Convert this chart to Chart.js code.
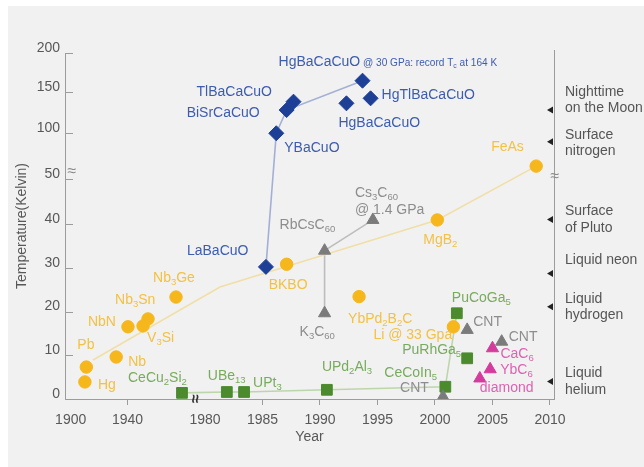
<!DOCTYPE html>
<html>
<head>
<meta charset="utf-8">
<script src="https://cdn.jsdelivr.net/npm/chart.js@4/dist/chart.umd.min.js"></script>
<style>
  html, body { margin: 0; padding: 0; background: #ffffff; }
  canvas { display: block; }
</style>
</head>
<body>
<canvas id="chart" width="644" height="467"></canvas>
<script>
// ---- axis ticks ----
const yearTicks = [1900, 1940, 1980, 1985, 1990, 1995, 2000, 2005, 2010];
const tempTicks = [0, 10, 20, 30, 40, 50, 100, 150, 200];

// ---- conventional superconductors (yellow) ----
const metalNames = ['Hg', 'Pb', 'Nb', 'NbN', 'V_{3}Si', 'Nb_{3}Sn', 'Nb_{3}Ge', 'BKBO',
                    'YbPd_{2}B_{2}C', 'MgB_{2}', 'Li @ 33 Gpa', 'FeAs'];
const metalYears = [1910, 1911, 1932, 1940.3, 1950.9, 1954.4, 1974.1, 1987.1, 1993.4, 2000.2, 2001.6, 2008.8];
const metalTc    = [3.9, 7.3, 9.6, 16.5, 16.7, 18.3, 23.3, 30.8, 23.4, 40.9, 16.5, 64];
const trendYears = [1915.7, 1981.3, 2000.2, 2008.8];
const trendTc    = [8.9, 25.6, 40.9, 64];

// ---- cuprates (blue) ----
const cuprateNames = ['LaBaCuO', 'YBaCuO', 'BiSrCaCuO', 'TlBaCaCuO', 'HgBaCaCuO', 'HgTlBaCaCuO',
                      'HgBaCaCuO| @ 30 GPa: record T_{c} at 164 K'];
const cuprateYears = [1985.3, 1986.2, 1987.1, 1987.7, 1992.3, 1994.4, 1993.7];
const cuprateTc    = [30.2, 99.7, 128, 138.2, 136.2, 142.3, 164.5];
const cupratePath  = [0, 1, 2, 6];

// ---- fullerides and nanotubes (grey) ----
const carbonNames = ['K_{3}C_{60}', 'RbCsC_{60}', 'Cs_{3}C_{60}\n@ 1.4 GPa', 'CNT', 'CNT', 'CNT'];
const carbonYears = [1990.4, 1990.4, 1994.6, 2000.7, 2002.8, 2005.8];
const carbonTc    = [19.6, 33.9, 40.9, 0.5, 15.8, 13.1];
const carbonPath  = [0, 1, 2];

// ---- heavy fermions (green) ----
const fermionNames = ['CeCu_{2}Si_{2}', 'UBe_{13}', 'UPt_{3}', 'UPd_{2}Al_{3}', 'CeCoIn_{5}', 'PuRhGa_{5}', 'PuCoGa_{5}'];
const fermionYears = [1978.3, 1981.9, 1983.4, 1990.6, 2000.9, 2002.8, 2001.9];
const fermionTc    = [1.4, 1.6, 1.6, 2.1, 2.8, 9.3, 19.6];
const fermionPath  = [0, 1, 2, 3, 4, 6];

// ---- diamond and intercalated graphite (magenta) ----
const graphiteNames = ['diamond', 'YbC_{6}', 'CaC_{6}'];
const graphiteYears = [2003.9, 2004.8, 2005.0];
const graphiteTc    = [4.7, 6.8, 11.6];

// ---- reference temperatures on the right edge ----
const levelNames = [['Liquid', 'helium'], ['Liquid', 'hydrogen'], ['Liquid neon'],
                    ['Surface', 'of Pluto'], ['Surface', 'nitrogen'], ['Nighttime', 'on the Moon']];
const levelTemps = [4.0, 21.1, 28.7, 41.0, 90.5, 128];

// ---- layout of the broken axes (value -> relative position) ----
const AXIS_KNOTS = {
  x: [[1900, 70.7], [1979, 183], [1980, 205], [2010, 550]],
  y: [[0, 0], [40, 175], [50, 220], [100, 266], [150, 307], [200, 346]]
};

// label offsets from each marker, in pixels [dx, dy]
const metalLabelPos    = [[13, 3], [-9, -22], [12, 5], [-40, -5], [4, 12], [-33, -19], [-23, -19],
                          [-18, 21], [-11, 23], [-14, 20], [-80, 8], [-45, -19]];
const cuprateLabelPos  = [[-79, -16], [8, 15], [-100, 3], [-97, -10], [-8, 20], [11, -3], [-84, -19]];
const carbonLabelPos   = [[-25, 19], [-45, -26], [-18, -27], [-43, -9], [6, -8], [7, -5]];
const fermionLabelPos  = [[-54, -15], [-19, -16], [9, -9], [-5, -23], [-61, -14], [-65, -8], [-5, -15]];
const graphiteLabelPos = [[0, 10], [10, 1], [8, 6]];
const levelFirstLine   = [-8, -8, -13, -8, -7, -18];

const FONT = '"Liberation Sans", Arial, Helvetica, sans-serif';
const COL = {
  blue: '#1d3f96', blueText: '#3c5cae', blueLine: '#a3b0d6',
  gold: '#f6b71c', goldText: '#f3c143', goldLine: '#f1dfa8',
  green: '#4b8b2d', greenText: '#78ab5c', greenLine: '#bcd6ab',
  grey: '#7b7b7b', greyText: '#8d8d8d', greyLine: '#bdbdbd',
  pink: '#d53b9d', pinkText: '#dd62b2',
  axis: '#9c9c9c', tick: '#585858'
};

// ---- a linear scale with piecewise (broken) mapping ----
class BrokenScale extends Chart.LinearScale {
  _toUnit(v) {
    const k = AXIS_KNOTS[this.axis];
    let i = 0;
    while (i < k.length - 2 && v > k[i + 1][0]) i++;
    const a = k[i], b = k[i + 1];
    return a[1] + (v - a[0]) * (b[1] - a[1]) / (b[0] - a[0]);
  }
  _fromUnit(u) {
    const k = AXIS_KNOTS[this.axis];
    let i = 0;
    while (i < k.length - 2 && u > k[i + 1][1]) i++;
    const a = k[i], b = k[i + 1];
    return a[0] + (u - a[1]) * (b[0] - a[0]) / (b[1] - a[1]);
  }
  getPixelForValue(value) {
    const u0 = this._toUnit(this.min), u1 = this._toUnit(this.max);
    return this.getPixelForDecimal((this._toUnit(value) - u0) / (u1 - u0));
  }
  getValueForPixel(pixel) {
    const u0 = this._toUnit(this.min), u1 = this._toUnit(this.max);
    return this._fromUnit(u0 + this.getDecimalForPixel(pixel) * (u1 - u0));
  }
}
BrokenScale.id = 'broken';
Chart.register(BrokenScale);

// ---- datasets ----
const pts = (xs, ys) => xs.map((x, i) => ({ x, y: ys[i] }));
const path = (xs, ys, idx) => idx.map(i => ({ x: xs[i], y: ys[i] }));

function markers(xs, ys, style, color, radius) {
  return {
    data: pts(xs, ys), pointStyle: style, pointRadius: radius,
    pointBackgroundColor: color, pointBorderColor: color, pointBorderWidth: 1,
    showLine: false, order: 0
  };
}
function guide(data, color) {
  return {
    data, showLine: true, pointRadius: 0, borderColor: color, borderWidth: 1.6,
    fill: false, order: 1
  };
}

const datasets = [
  markers(metalYears, metalTc, 'circle', COL.gold, 6.2),
  markers(cuprateYears, cuprateTc, 'rectRot', COL.blue, 7.5),
  markers(carbonYears, carbonTc, 'triangle', COL.grey, 7),
  markers(fermionYears, fermionTc, 'rect', COL.green, 7.6),
  markers(graphiteYears, graphiteTc, 'triangle', COL.pink, 7),
  guide(pts(trendYears, trendTc), COL.goldLine),
  guide(path(cuprateYears, cuprateTc, cupratePath), COL.blueLine),
  guide(path(carbonYears, carbonTc, carbonPath), COL.greyLine),
  guide(path(fermionYears, fermionTc, fermionPath), COL.greenLine)
];

// ---- text with _{subscripts}; '|' switches to the small caption size ----
function richParts(str) {
  const out = [];
  const re = /_\{([^}]*)\}/g;
  let last = 0, m;
  while ((m = re.exec(str))) {
    if (m.index > last) out.push({ t: str.slice(last, m.index), sub: false });
    out.push({ t: m[1], sub: true });
    last = re.lastIndex;
  }
  if (last < str.length) out.push({ t: str.slice(last), sub: false });
  return out;
}
function drawRich(ctx, str, x, y, size, color) {
  const chunks = str.split('|');
  let cx = x;
  ctx.fillStyle = color;
  ctx.textBaseline = 'middle';
  ctx.textAlign = 'left';
  chunks.forEach((chunk, ci) => {
    const s = ci === 0 ? size : size * 0.72;
    const dy = ci === 0 ? 0 : size * 0.08;
    richParts(chunk).forEach(p => {
      const fs = p.sub ? s * 0.68 : s;
      ctx.font = fs + 'px ' + FONT;
      ctx.fillText(p.t, cx, y + dy + (p.sub ? s * 0.3 : 0));
      cx += ctx.measureText(p.t).width;
    });
  });
}

function labelFamily(ctx, chart, names, xs, ys, offs, color) {
  const xs_ = chart.scales.x, ys_ = chart.scales.y;
  names.forEach((name, i) => {
    const px = xs_.getPixelForValue(xs[i]);
    const py = ys_.getPixelForValue(ys[i]);
    name.split('\n').forEach((line, li) => {
      drawRich(ctx, line, px + offs[i][0], py + offs[i][1] + li * 17, 14, color);
    });
  });
}

const backdrop = {
  id: 'backdrop',
  beforeDraw(chart) {
    const { ctx, width, height } = chart;
    ctx.save();
    ctx.fillStyle = '#ffffff';
    ctx.fillRect(0, 0, width, height);
    ctx.fillStyle = '#f1f1f1';
    ctx.fillRect(8, 6, width - 8, height - 6);
    ctx.restore();
  }
};

const decorations = {
  id: 'decorations',
  afterDatasetsDraw(chart) {
    const { ctx, chartArea: a, scales: { x, y } } = chart;
    ctx.save();

    // inward tick marks on the temperature axis
    ctx.strokeStyle = COL.axis;
    ctx.lineWidth = 1;
    tempTicks.forEach(v => {
      if (v === 0) return;
      const py = Math.round(y.getPixelForValue(v)) + 0.5;
      ctx.beginPath(); ctx.moveTo(a.left, py); ctx.lineTo(a.left + 8, py); ctx.stroke();
    });

    // right-hand frame line
    ctx.beginPath(); ctx.moveTo(a.right + 0.5, a.top - 3); ctx.lineTo(a.right + 0.5, a.bottom); ctx.stroke();

    // axis breaks
    ctx.font = '16px ' + FONT;
    ctx.textAlign = 'center'; ctx.textBaseline = 'middle';
    const yBreak = y.getPixelForValue(50) - 7;
    ctx.fillStyle = '#8a8a8a';
    ctx.fillText('\u2248', a.left + 7, yBreak);
    ctx.fillText('\u2248', a.right + 1, yBreak + 5);
    const xBreak = (x.getPixelForValue(1979) + x.getPixelForValue(1980)) / 2;
    ctx.save();
    ctx.translate(xBreak, a.bottom);
    ctx.rotate(Math.PI / 2);
    ctx.fillStyle = '#333333';
    ctx.font = 'bold 16px ' + FONT;
    ctx.fillText('\u2248', 0, 0);
    ctx.restore();

    // reference temperatures: arrow heads and captions
    levelTemps.forEach((t, i) => {
      const py = y.getPixelForValue(t);
      ctx.fillStyle = '#222222';
      ctx.beginPath();
      ctx.moveTo(a.right - 7, py);
      ctx.lineTo(a.right - 1, py - 3.5);
      ctx.lineTo(a.right - 1, py + 3.5);
      ctx.closePath(); ctx.fill();
      ctx.fillStyle = '#555555';
      ctx.font = '14px ' + FONT;
      ctx.textAlign = 'left';
      levelNames[i].forEach((line, li) => {
        ctx.fillText(line, a.right + 11, py + levelFirstLine[i] + li * 16.6);
      });
    });

    // point labels
    labelFamily(ctx, chart, metalNames, metalYears, metalTc, metalLabelPos, COL.goldText);
    labelFamily(ctx, chart, cuprateNames, cuprateYears, cuprateTc, cuprateLabelPos, COL.blueText);
    labelFamily(ctx, chart, carbonNames, carbonYears, carbonTc, carbonLabelPos, COL.greyText);
    labelFamily(ctx, chart, fermionNames, fermionYears, fermionTc, fermionLabelPos, COL.greenText);
    labelFamily(ctx, chart, graphiteNames, graphiteYears, graphiteTc, graphiteLabelPos, COL.pinkText);
    ctx.restore();
  }
};

const hiddenYearTicks = [1900, 1980];

new Chart(document.getElementById('chart'), {
  type: 'scatter',
  data: { datasets },
  options: {
    responsive: false,
    animation: false,
    events: [],
    layout: { padding: { left: 0, top: 53, right: 90, bottom: 0 } },
    plugins: { legend: { display: false }, tooltip: { enabled: false } },
    scales: {
      x: {
        type: 'broken', min: 1896, max: 2010.35,
        afterBuildTicks: s => { s.ticks = yearTicks.map(v => ({ value: v })); },
        afterFit: s => { s.height = 68; },
        grid: {
          drawOnChartArea: false, drawTicks: true, tickLength: 6, lineWidth: 1,
          color: c => (c.tick && hiddenYearTicks.includes(c.tick.value)) ? 'rgba(0,0,0,0)' : COL.axis
        },
        border: { color: COL.axis, width: 1 },
        ticks: {
          autoSkip: false, maxRotation: 0, padding: 7, color: COL.tick,
          font: { family: FONT, size: 14 }, callback: v => String(v)
        },
        title: {
          display: true, text: 'Year', color: COL.tick,
          font: { family: FONT, size: 14 }, padding: { top: 0, bottom: 21 }
        }
      },
      y: {
        type: 'broken', min: 0, max: 200,
        afterBuildTicks: s => { s.ticks = tempTicks.map(v => ({ value: v })); },
        afterFit: s => { s.width = 65; },
        grid: { display: false, drawTicks: false },
        border: { color: COL.axis, width: 1 },
        ticks: {
          autoSkip: false, padding: 5, labelOffset: -5, color: COL.tick,
          font: { family: FONT, size: 14 }, callback: v => String(v)
        },
        title: {
          display: true, text: 'Temperature(Kelvin)', color: COL.tick,
          font: { family: FONT, size: 14 }, padding: { top: 14, bottom: 0 }
        }
      }
    }
  },
  plugins: [backdrop, decorations]
});
</script>
</body>
</html>
